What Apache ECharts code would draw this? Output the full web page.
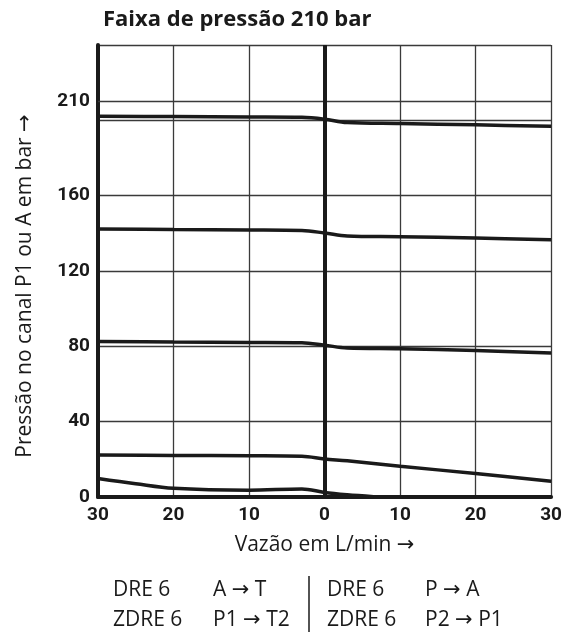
<!DOCTYPE html>
<html>
<head>
<meta charset="utf-8">
<script src="https://cdn.jsdelivr.net/npm/echarts@6/dist/echarts.min.js"></script>
<style>html,body{margin:0;padding:0;background:#fff}#c{width:565px;height:632px}</style>
</head>
<body>
<div id="c"></div>
<script>
// Flow (L/min): negative side = A→T / P1→T2, positive side = P→A / P2→P1
const flow = [-30, -20, -10, -3, 0, 3, 10, 20, 30];
const curve210 = [202.2, 202.0, 201.8, 201.6, 200.6, 198.8, 198.3, 197.6, 196.8];
const curve140 = [142.3, 142.0, 141.8, 141.5, 140.2, 138.6, 138.2, 137.5, 136.6];
const curve80  = [82.6, 82.3, 82.1, 81.9, 80.6, 79.1, 78.7, 77.8, 76.5];
const curve20  = [22.3, 22.1, 21.9, 21.6, 20.2, 19.2, 16.3, 12.5, 8.4];
const flowLow  = [-30, -25, -20, -10, -3, 0, 3, 6.5];
const curve0   = [9.8, 7.0, 4.6, 3.6, 4.3, 2.4, 1.2, 0.2];
const yLabels  = [0, 40, 80, 120, 160, 210];
const extraGridY = [210];
const centerX = [0];

const titleText = 'Faixa de pressão 210 bar';
const yName = 'Pressão no canal P1 ou A em bar →';
const xName = 'Vazão em L/min →';
const legendRows = [
  ['DRE 6', 'A → T', 'DRE 6', 'P → A'],
  ['ZDRE 6', 'P1 → T2', 'ZDRE 6', 'P2 → P1']
];

const FONT = '"Open Sans", "DejaVu Sans", sans-serif';
const NUMFONT = 'Roboto, "Open Sans", sans-serif';
const INK = '#1a1a1a';
const GRID = '#3a3a3a';

function pairs(xs, ys) { return xs.map((x, i) => [x, ys[i]]); }
function lineSeries(xs, ys, extra) {
  return Object.assign({
    type: 'line', data: pairs(xs, ys), smooth: 0.35, showSymbol: false, silent: true,
    lineStyle: { color: INK, width: 3.5 }, z: 5
  }, extra || {});
}

const chart = echarts.init(document.getElementById('c'), null, { renderer: 'canvas' });

const legendX = [113, 213, 327, 425];
const legendY = [580, 610];
const graphics = [];
legendRows.forEach((row, r) => row.forEach((t, c) => {
  graphics.push({ type: 'text', left: legendX[c], top: legendY[r],
    style: { text: t, fontSize: 21, fontFamily: FONT, fontWeight: 'normal', fill: INK } });
}));
graphics.push({ type: 'line', shape: { x1: 309, y1: 576, x2: 309, y2: 632 },
  style: { stroke: INK, lineWidth: 1.5 } });

chart.setOption({
  animation: false,
  backgroundColor: '#fff',
  title: { text: titleText, left: 98, top: 4,
    textStyle: { fontFamily: FONT, fontSize: 22, fontWeight: 'bold', color: INK } },
  grid: { left: 98, right: 12, top: 45, bottom: 135, containLabel: false },
  xAxis: {
    type: 'value', min: -30, max: 30, interval: 10,
    name: xName, nameLocation: 'middle', nameGap: 38,
    nameTextStyle: { fontFamily: FONT, fontSize: 21, fontWeight: 'normal', color: INK },
    axisLine: { show: true, onZero: false, lineStyle: { color: INK, width: 4 } },
    axisTick: { show: false },
    axisLabel: { formatter: v => String(Math.abs(v)), fontFamily: NUMFONT, fontSize: 19,
      fontWeight: 'bold', color: INK, margin: 9 },
    splitLine: { show: true, lineStyle: { color: GRID, width: 1.3 } }
  },
  yAxis: {
    type: 'value', min: 0, max: 240, interval: 40,
    name: yName, nameLocation: 'middle', nameRotate: 90, nameGap: 62,
    nameTextStyle: { fontFamily: FONT, fontSize: 21, fontWeight: 'normal', color: INK,
      padding: [0, 30, 0, 0] },
    axisLine: { show: true, onZero: false, lineStyle: { color: INK, width: 4 } },
    axisTick: { show: false },
    axisLabel: { customValues: yLabels, fontFamily: NUMFONT, fontSize: 19,
      fontWeight: 'bold', color: INK, margin: 8 },
    splitLine: { show: true, lineStyle: { color: GRID, width: 1.3 } }
  },
  graphic: graphics,
  series: [
    lineSeries(flow, curve210, {
      markLine: {
        silent: true, symbol: 'none', label: { show: false }, animation: false,
        data: extraGridY.map(v => ({ yAxis: v, lineStyle: { color: GRID, width: 1.3, type: 'solid' } }))
          .concat(centerX.map(v => ({ xAxis: v, lineStyle: { color: INK, width: 4, type: 'solid' } })))
      }
    }),
    lineSeries(flow, curve140),
    lineSeries(flow, curve80),
    lineSeries(flow, curve20),
    lineSeries(flowLow, curve0)
  ]
});
</script>
</body>
</html>
